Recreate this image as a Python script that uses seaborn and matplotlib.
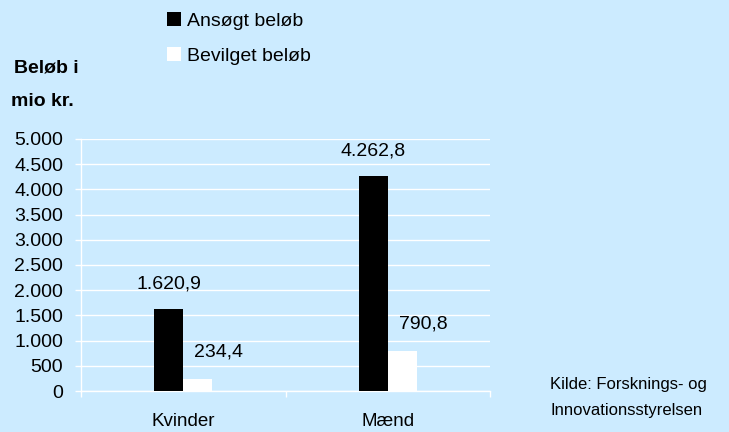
import pandas as pd
import seaborn as sns
import matplotlib.pyplot as plt
from matplotlib.patches import Patch
from matplotlib.ticker import FuncFormatter

categories = ["Kvinder", "Mænd"]
ansoegt = [1620.9, 4262.8]
bevilget = [234.4, 790.8]
series_names = ["Ansøgt beløb", "Bevilget beløb"]
series_colors = ["#000000", "#ffffff"]
value_labels = [["1.620,9", "4.262,8"], ["234,4", "790,8"]]

bg = "#CCEBFF"

df = pd.DataFrame({
    "kategori": categories * 2,
    "serie": [series_names[0]] * 2 + [series_names[1]] * 2,
    "beloeb": ansoegt + bevilget,
})

sns.set_theme(style="white")
plt.rcParams["font.family"] = ["Liberation Sans", "DejaVu Sans"]
plt.rcParams["text.color"] = "black"

fig = plt.figure(figsize=(7.29, 4.32), dpi=100, facecolor=bg)
ax = fig.add_axes([81 / 729, 41 / 432, 409 / 729, 252 / 432])
ax.set_facecolor(bg)

sns.barplot(data=df, x="kategori", y="beloeb", hue="serie",
            palette=series_colors, width=0.284, gap=0, linewidth=0,
            saturation=1, legend=False, ax=ax, zorder=3)

ax.set_ylim(0, 5000)
ax.set_xlim(-0.5, 1.5)
ax.set_yticks(range(0, 5001, 500))
ax.yaxis.set_major_formatter(FuncFormatter(lambda v, p: f"{int(v):,}".replace(",", ".")))
ax.grid(axis="y", color="white", linewidth=1, zorder=0)
ax.set_axisbelow(True)
for side in ["top", "right"]:
    ax.spines[side].set_visible(False)
for side in ["left", "bottom"]:
    ax.spines[side].set_color("white")
    ax.spines[side].set_linewidth(1)

ax.tick_params(axis="y", left=True, length=4.3, width=1, color="white",
               pad=8.6, labelsize=14, labelcolor="black")
ax.set_xticks([-0.5, 0.5, 1.5], minor=True)
ax.tick_params(axis="x", which="minor", bottom=True, length=4.3, width=1, color="white")
ax.tick_params(axis="x", which="major", bottom=False, pad=10, labelsize=13.5, labelcolor="black")
ax.set_xlabel("")
ax.set_ylabel("")

# value labels above bars
offsets = [(0, 25), (21, 27)]
for i, cont in enumerate(ax.containers):
    for j, bar in enumerate(cont):
        xc = bar.get_x() + bar.get_width() / 2
        ax.annotate(value_labels[i][j], (xc, bar.get_height()),
                    xytext=offsets[i], textcoords="offset pixels",
                    ha="center", va="center", fontsize=14, color="black")

handles = [Patch(facecolor=c, edgecolor="none") for c in series_colors]
fig.legend(handles, series_names, loc="upper left",
           bbox_to_anchor=(167 / 729, 1 - 12 / 432), frameon=False,
           fontsize=14, handlelength=0.72, handleheight=0.72,
           handletextpad=0.3, labelspacing=0.9, borderpad=0, borderaxespad=0,
           labelcolor="black")

fig.text(14 / 729, 1 - 68 / 432, "Beløb i", fontsize=14, fontweight="bold",
         va="center", ha="left")
fig.text(11 / 729, 1 - 101 / 432, "mio kr.", fontsize=14, fontweight="bold",
         va="center", ha="left")

fig.text(550 / 729, 1 - 385 / 432, "Kilde: Forsknings- og", fontsize=12,
         va="center", ha="left")
fig.text(550 / 729, 1 - 410 / 432, "Innovationsstyrelsen", fontsize=12,
         va="center", ha="left")

fig.savefig("out.png", dpi=100, facecolor=bg)
